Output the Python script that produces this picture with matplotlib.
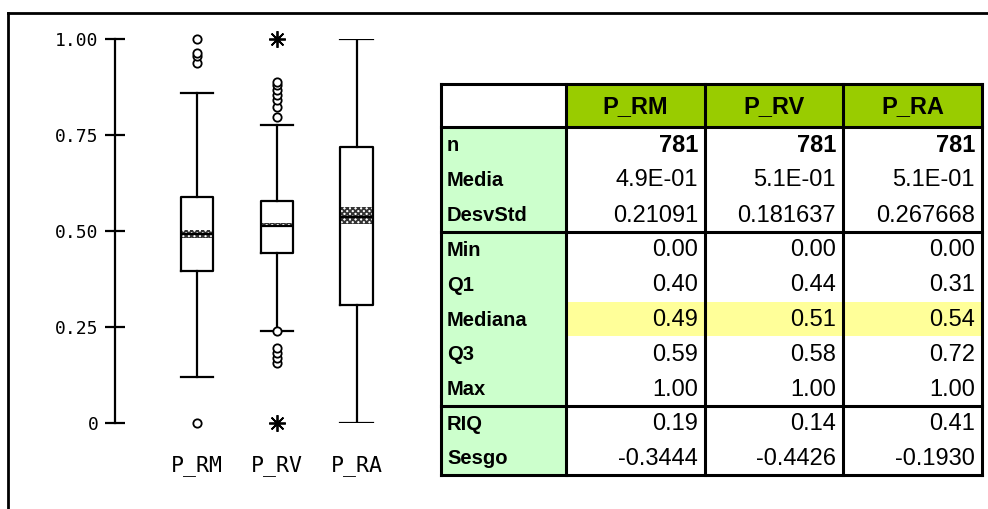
import matplotlib.pyplot as plt
from matplotlib.patches import Rectangle

# box plot values
categories = ["P_RM", "P_RV", "P_RA"]
whislo = [0.12, 0.24, 0.0]
q1 = [0.396, 0.443, 0.307]
med = [0.491, 0.512, 0.537]
q3 = [0.589, 0.578, 0.719]
whishi = [0.86, 0.776, 1.0]
band_lo = [0.482, 0.512, 0.518]
band_hi = [0.503, 0.522, 0.563]
outliers = [[0.0, 0.937, 0.955, 0.964, 1.0],
            [0.156, 0.169, 0.182, 0.195, 0.24, 0.797, 0.823, 0.841, 0.854, 0.867, 0.880, 0.888],
            []]
extremes = [[], [0.0, 1.0], []]

# summary table
row_labels = ["n", "Media", "DesvStd", "Min", "Q1", "Mediana", "Q3", "Max", "RIQ", "Sesgo"]
n_obs = [781, 781, 781]
media = [0.49, 0.51, 0.51]
desv = ["0.21091", "0.181637", "0.267668"]
vmin = [0.0, 0.0, 0.0]
vq1 = [0.40, 0.44, 0.31]
vmed = [0.49, 0.51, 0.54]
vq3 = [0.59, 0.58, 0.72]
vmax = [1.0, 1.0, 1.0]
riq = [0.19, 0.14, 0.41]
sesgo = [-0.3444, -0.4426, -0.1930]

plt.rcParams["hatch.linewidth"] = 1.3

W, H = 988, 509
fig = plt.figure(figsize=(W / 100, H / 100), dpi=100)

# overlay in pixel coords for frame and table
ov = fig.add_axes([0, 0, 1, 1])
ov.set_xlim(0, W)
ov.set_ylim(H, 0)
ov.axis("off")
ov.plot([8, W], [13, 13], color="black", lw=2)
ov.plot([8, 8], [13, H], color="black", lw=2)

# ---- box plot
ax = fig.add_axes([115 / W, 86 / H, 305 / W, 384 / H])
pos = [1, 2, 3]
wid = 0.41
stats = []
for i in range(3):
    stats.append({"whislo": whislo[i], "q1": q1[i], "med": med[i], "q3": q3[i],
                  "whishi": whishi[i], "fliers": []})
lp = dict(color="black", lw=1.6)
ax.bxp(stats, positions=pos, widths=wid, capwidths=wid, showfliers=False,
       boxprops=lp, whiskerprops=lp, capprops=lp, medianprops=lp)
for i in range(3):
    ax.add_patch(Rectangle((pos[i] - wid / 2, band_lo[i]), wid, band_hi[i] - band_lo[i],
                           fill=False, hatch="xxxxxx", lw=0, edgecolor="#333333"))
    if outliers[i]:
        ax.plot([pos[i]] * len(outliers[i]), outliers[i], "o", mfc="white", mec="black",
                ms=6, mew=1.3, clip_on=False, zorder=5)
    if extremes[i]:
        ax.plot([pos[i]] * len(extremes[i]), extremes[i], marker=(8, 2, 0), ls="none",
                color="black", ms=12, mew=1.3, clip_on=False, zorder=5)

ax.set_xlim(-0.025, 3.79)
ax.set_ylim(0, 1)
for s in ["top", "right", "bottom"]:
    ax.spines[s].set_visible(False)
ax.spines["left"].set_linewidth(1.6)
ax.set_yticks([0, 0.25, 0.5, 0.75, 1.0], ["0", "0.25", "0.50", "0.75", "1.00"],
              family="DejaVu Sans Mono", fontsize=13)
ax.tick_params(axis="y", direction="inout", length=14, width=1.6, pad=5)
ax.set_xticks(pos, categories, family="DejaVu Sans Mono", fontsize=15.5)
ax.tick_params(axis="x", length=0, pad=23)
ax.patch.set_visible(False)

# ---- table
xs = [441, 566, 705, 843, 982]
top, hdr = 84, 127
g1, g2, bot = 232, 406, 475
rows_y = []
for k in range(3):
    rows_y.append((hdr + (g1 - hdr) * k / 3, hdr + (g1 - hdr) * (k + 1) / 3))
for k in range(5):
    rows_y.append((g1 + (g2 - g1) * k / 5, g1 + (g2 - g1) * (k + 1) / 5))
for k in range(2):
    rows_y.append((g2 + (bot - g2) * k / 2, g2 + (bot - g2) * (k + 1) / 2))

ov.add_patch(Rectangle((xs[1], top), xs[4] - xs[1], hdr - top, color="#99CC00", lw=0))
ov.add_patch(Rectangle((xs[0], hdr), xs[1] - xs[0], bot - hdr, color="#CCFFCC", lw=0))
y0, y1 = rows_y[5]
ov.add_patch(Rectangle((xs[1], y0), xs[4] - xs[1], y1 - y0, color="#FFFF99", lw=0))

for x in xs:
    ov.plot([x, x], [top, bot], color="black", lw=2.2)
for y in [top, hdr, g1, g2, bot]:
    ov.plot([xs[0], xs[4]], [y, y], color="black", lw=2.2)

for j, c in enumerate(categories):
    ov.text((xs[j + 1] + xs[j + 2]) / 2, (top + hdr) / 2 + 1, c, ha="center", va="center",
            family="Liberation Sans", weight="bold", fontsize=17)

cols = [
    [str(v) for v in n_obs],
    ["%.1E" % v for v in media],
    desv,
    ["%.2f" % v for v in vmin],
    ["%.2f" % v for v in vq1],
    ["%.2f" % v for v in vmed],
    ["%.2f" % v for v in vq3],
    ["%.2f" % v for v in vmax],
    ["%.2f" % v for v in riq],
    ["%.4f" % v for v in sesgo],
]
for r, lab in enumerate(row_labels):
    yc = (rows_y[r][0] + rows_y[r][1]) / 2 + 1
    ov.text(xs[0] + 6, yc, lab, ha="left", va="center", family="Liberation Sans",
            weight="bold", fontsize=14.5)
    for j in range(3):
        ov.text(xs[j + 2] - 7, yc, cols[r][j], ha="right", va="center",
                family="Liberation Sans", fontsize=17,
                weight="bold" if r == 0 else "normal")

fig.savefig("out.png", dpi=100)
